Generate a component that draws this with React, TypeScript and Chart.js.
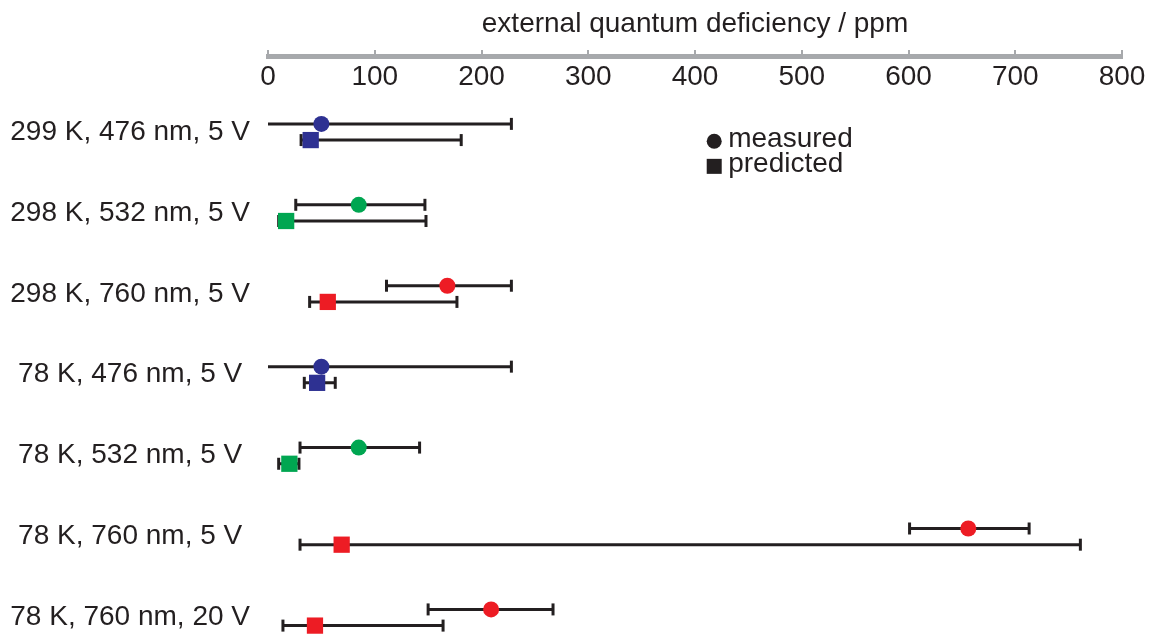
import React, { useEffect, useRef } from "react";
import { Chart, registerables } from "chart.js";

Chart.register(...registerables);

// ---- data ----
const rowLabels = [
  "299 K, 476 nm, 5 V",
  "298 K, 532 nm, 5 V",
  "298 K, 760 nm, 5 V",
  "78 K, 476 nm, 5 V",
  "78 K, 532 nm, 5 V",
  "78 K, 760 nm, 5 V",
  "78 K, 760 nm, 20 V",
];
const rowColors = ["#2E3192", "#00A651", "#ED1C24", "#2E3192", "#00A651", "#ED1C24", "#ED1C24"];

const measured = [50, 85, 168, 50, 85, 656, 209];
const measuredLow = [0, 26, 111, 0, 30, 601, 150];
const measuredHigh = [228, 147, 228, 228, 142, 713, 267];

const predicted = [40, 17, 56, 46, 20, 69, 44];
const predictedLow = [31, 10, 39, 34, 10, 30, 14];
const predictedHigh = [181, 148, 177, 63, 29, 761, 164];

const xTicks = [0, 100, 200, 300, 400, 500, 600, 700, 800];
const legendLabels = ["measured", "predicted"];
const axisTitle = "external quantum deficiency / ppm";

// ---- style ----
const FONT = "'Liberation Sans', Arial, Helvetica, sans-serif";
const INK = "#231F20";
const AXIS_GRAY = "#A7A9AC";
const MEAS_OFFSET = -0.1;
const PRED_OFFSET = 0.1;

function bars(low: number[], high: number[], off: number) {
  return low.flatMap((lo, i) => [
    { x: lo, y: i + off },
    { x: high[i], y: i + off },
    { x: high[i], y: null as any },
  ]);
}
function caps(low: number[]) {
  return low.flatMap((lo) => [lo > 0 ? 6 : 0, 6, 0]);
}

const keyPlugin = {
  id: "markerKey",
  afterDatasetsDraw(chart: any) {
    const ctx = chart.ctx;
    const xs = chart.scales.x;
    const ys = chart.scales.y;
    const cx = xs.getPixelForValue(418);
    const y1 = ys.getPixelForValue(0.09);
    const y2 = ys.getPixelForValue(0.4);
    ctx.save();
    ctx.fillStyle = INK;
    ctx.beginPath();
    ctx.arc(cx, y1 + 2, 7.5, 0, Math.PI * 2);
    ctx.fill();
    ctx.fillRect(cx - 7.5, y2 + 2 - 7.5, 15, 15);
    ctx.font = `28px ${FONT}`;
    ctx.textBaseline = "middle";
    ctx.textAlign = "left";
    ctx.fillText(legendLabels[0], cx + 14, y1);
    ctx.fillText(legendLabels[1], cx + 14, y2);
    ctx.restore();
  },
};

export default function App() {
  const ref = useRef<HTMLCanvasElement | null>(null);

  useEffect(() => {
    if (!ref.current) return;
    Chart.defaults.font.family = FONT;
    const setTicks = (s: any) => {
      s.ticks = xTicks.map((v) => ({ value: v }));
    };
    const chart = new Chart(ref.current, {
      type: "scatter",
      data: {
        datasets: [
          {
            label: legendLabels[0],
            data: measured.map((x, i) => ({ x, y: i + MEAS_OFFSET })),
            pointStyle: "circle",
            pointRadius: 8,
            pointBackgroundColor: rowColors,
            pointBorderColor: rowColors,
            pointBorderWidth: 0,
            showLine: false,
            clip: false,
          } as any,
          {
            label: legendLabels[1],
            data: predicted.map((x, i) => ({ x, y: i + PRED_OFFSET })),
            pointStyle: "rect",
            pointRadius: 11.5,
            pointBackgroundColor: rowColors,
            pointBorderColor: rowColors,
            pointBorderWidth: 0,
            showLine: false,
            clip: false,
          } as any,
          {
            label: "measured range",
            data: bars(measuredLow, measuredHigh, MEAS_OFFSET),
            showLine: true,
            spanGaps: false,
            borderColor: INK,
            borderWidth: 3,
            pointStyle: "line",
            pointRotation: 90,
            pointRadius: caps(measuredLow),
            pointBorderColor: INK,
            pointBorderWidth: 3,
            clip: false,
          } as any,
          {
            label: "predicted range",
            data: bars(predictedLow, predictedHigh, PRED_OFFSET),
            showLine: true,
            spanGaps: false,
            borderColor: INK,
            borderWidth: 3,
            pointStyle: "line",
            pointRotation: 90,
            pointRadius: caps(predictedLow),
            pointBorderColor: INK,
            pointBorderWidth: 3,
            clip: false,
          } as any,
        ],
      },
      options: {
        responsive: false,
        animation: false,
        events: [],
        layout: { padding: { left: 0, right: 38, top: 0, bottom: 0 } },
        plugins: { legend: { display: false }, tooltip: { enabled: false } },
        scales: {
          x: {
            type: "linear",
            position: "top",
            min: 0,
            max: 800,
            weight: 1,
            afterBuildTicks: setTicks,
            afterFit: (s: any) => {
              s.height = 56;
            },
            title: {
              display: true,
              text: axisTitle,
              color: INK,
              font: { size: 28 },
              padding: { top: 7, bottom: 0 },
            },
            ticks: { display: false },
            grid: {
              display: true,
              drawOnChartArea: false,
              drawTicks: true,
              tickLength: 6,
              color: AXIS_GRAY,
              lineWidth: 2,
            },
            border: { display: true, color: AXIS_GRAY, width: 5 },
          },
          x2: {
            type: "linear",
            position: "top",
            min: 0,
            max: 800,
            weight: 0,
            afterBuildTicks: setTicks,
            afterFit: (s: any) => {
              s.height = 39;
            },
            ticks: {
              display: true,
              color: INK,
              font: { size: 28 },
              padding: 1,
              maxRotation: 0,
              autoSkip: false,
            },
            grid: { display: false, drawTicks: false },
            border: { display: false },
          },
          y: {
            type: "linear",
            position: "left",
            reverse: true,
            min: -0.457,
            max: 6.074,
            afterBuildTicks: (s: any) => {
              s.ticks = rowLabels.map((_, i) => ({ value: i }));
            },
            afterFit: (s: any) => {
              s.width = 268;
              s.paddingTop = 0;
              s.paddingBottom = 0;
            },
            ticks: {
              callback: (_v: any, i: number) => rowLabels[i],
              color: INK,
              font: { size: 28 },
              crossAlign: "center",
              padding: 18,
              autoSkip: false,
            },
            grid: { display: false, drawTicks: false },
            border: { display: false },
          },
        },
      } as any,
      plugins: [keyPlugin],
    });
    return () => chart.destroy();
  }, []);

  return (
    <div style={{ position: "absolute", left: 0, top: 0, width: 1160, height: 635, background: "#fff" }}>
      <canvas ref={ref} width={1160} height={635} />
    </div>
  );
}
